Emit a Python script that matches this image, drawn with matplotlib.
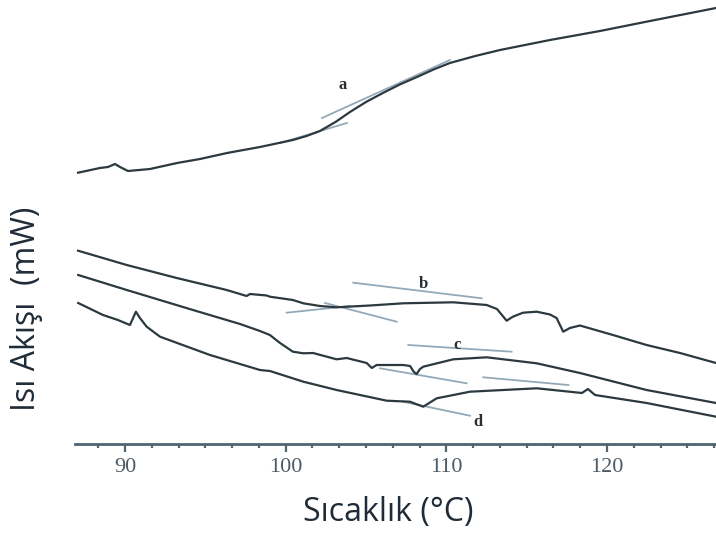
import matplotlib
matplotlib.use("Agg")
import matplotlib.pyplot as plt
from matplotlib.ticker import MultipleLocator

# Temperature (°C) and heat flow (arbitrary units)
a_T = [87.08, 88.44, 88.94, 89.38, 89.69, 90.19, 91.56, 93.24, 94.67, 96.35, 98.40, 100.45,
       101.3, 102.13, 103.1, 104.00, 105.0, 106.05, 107.1, 108.17, 109.2, 110.22, 111.8,
       113.34, 116.45, 119.56, 122.67, 126.78]
a_H = [27.13, 27.6, 27.7, 28.0, 27.7, 27.3, 27.5, 28.1, 28.5, 29.1, 29.7, 30.4,
       30.8, 31.3, 32.2, 33.2, 34.2, 35.1, 35.95, 36.7, 37.45, 38.1, 38.8,
       39.4, 40.4, 41.3, 42.3, 43.6]

b_T = [87.08, 90.11, 93.22, 96.33, 97.57, 97.78, 98.82, 99.02, 100.45, 101.10, 102.13,
       103.17, 105.25, 107.32, 110.43, 112.51, 113.15, 113.75, 114.14, 114.77, 115.62,
       116.45, 116.86, 117.27, 117.69, 118.31, 120.37, 122.46, 124.54, 126.78]
b_H = [19.33, 17.9, 16.6, 15.4, 14.8, 15.0, 14.85, 14.73, 14.4, 14.07, 13.8,
       13.67, 13.85, 14.07, 14.17, 13.9, 13.5, 12.33, 12.73, 13.13, 13.23,
       12.95, 12.6, 11.23, 11.6, 11.85, 10.9, 9.9, 9.1, 8.1]

c_T = [87.09, 90.11, 94.23, 97.16, 98.40, 99.02, 99.65, 100.45, 101.10, 101.70, 103.17,
       103.80, 105.04, 105.36, 105.66, 107.32, 107.74, 107.98, 108.15, 108.36, 108.56,
       110.43, 112.51, 115.62, 118.31, 122.46, 126.78]
c_H = [16.9, 15.4, 13.4, 12.0, 11.3, 10.9, 10.1, 9.23, 9.07, 9.1, 8.47,
       8.6, 8.1, 7.6, 7.9, 7.9, 7.8, 7.2, 7.0, 7.5, 7.73,
       8.47, 8.67, 8.07, 7.1, 5.4, 4.1]

d_T = [87.09, 88.63, 89.56, 90.31, 90.68, 90.93, 91.35, 92.18, 95.29, 98.40, 99.02,
       101.10, 103.17, 106.29, 107.73, 108.56, 109.40, 111.47, 115.62, 118.44, 118.81,
       119.25, 122.46, 126.78]
d_H = [14.1, 12.9, 12.4, 11.9, 13.23, 12.6, 11.73, 10.73, 8.9, 7.4, 7.3,
       6.23, 5.4, 4.33, 4.23, 3.73, 4.57, 5.23, 5.57, 5.1, 5.5,
       4.9, 4.1, 2.73]

# Tangent construction lines: (T1, H1, T2, H2)
tangents = [
    (102.26, 32.6, 110.22, 38.4),
    (99.65, 30.1, 103.81, 32.1),
    (104.21, 16.13, 112.20, 14.57),
    (100.06, 13.13, 104.0, 13.8),
    (102.45, 14.1, 106.91, 12.23),
    (107.63, 9.9, 114.06, 9.23),
    (105.87, 7.57, 111.26, 6.07),
    (112.30, 6.67, 117.59, 5.9),
    (107.30, 4.23, 111.47, 2.83),
]

curve_labels = ["a", "b", "c", "d"]
label_T = [103.57, 108.56, 110.64, 111.99]
label_H = [35.9, 16.0, 9.9, 2.23]

x_ticks = [90, 100, 110, 120]

fig = plt.figure(figsize=(7.16, 5.37), dpi=100)
ax = fig.add_axes([75 / 716, 93 / 537, 1 - 75 / 716, 444 / 537])

curve_color = "#2c3a40"
tan_color = "#93a9b8"

for (t1, h1, t2, h2) in tangents:
    ax.plot([t1, t2], [h1, h2], color=tan_color, lw=1.3, zorder=1)

for T, H in [(a_T, a_H), (b_T, b_H), (c_T, c_H), (d_T, d_H)]:
    ax.plot(T, H, color=curve_color, lw=1.6, zorder=2, solid_joinstyle="round")

for lab, t, h in zip(curve_labels, label_T, label_H):
    ax.text(t, h, lab, fontsize=12, fontweight="bold", family="Liberation Serif",
            color="#2a2f33", ha="center", va="center")

ax.set_xlim(86.89, 126.78)
ax.set_ylim(0, 44.4)

for s in ["left", "right", "top"]:
    ax.spines[s].set_visible(False)
ax.spines["bottom"].set_color("#4f6672")
ax.spines["bottom"].set_linewidth(2.0)
ax.set_yticks([])

ax.set_xticks(x_ticks)
ax.xaxis.set_minor_locator(MultipleLocator(10 / 6))
ax.tick_params(axis="x", which="major", direction="out", length=6, width=1.6,
               color="#4f6672", labelsize=16, labelcolor="#4e5a65", pad=4)
ax.tick_params(axis="x", which="minor", direction="out", length=3, width=1.6,
               color="#4f6672")
for lbl in ax.get_xticklabels():
    lbl.set_family("Liberation Serif")

fig.text(388 / 716, 1 - 512 / 537, "Sıcaklık (°C)", fontsize=23, family="Open Sans",
         color="#1f2b36", ha="center", va="center")
fig.text(27 / 716, 1 - 309 / 537, "Isı Akışı  (mW)", fontsize=23, family="Open Sans",
         color="#1f2b36", ha="center", va="center", rotation=90)

fig.savefig("out.png", dpi=100)
